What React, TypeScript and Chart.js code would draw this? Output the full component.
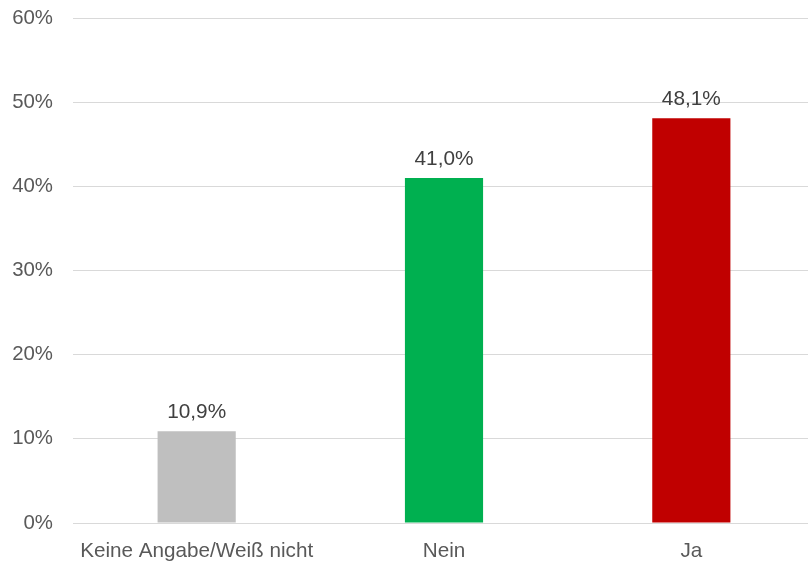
import React, { useEffect, useRef } from "react";
import { Chart, registerables } from "chart.js";

Chart.register(...registerables);

const categories = ["Keine Angabe/Weiß nicht", "Nein", "Ja"];
const values = [10.9, 41.0, 48.1];
const barColors = ["#BFBFBF", "#00B050", "#C00000"];
const yTicks = [0, 10, 20, 30, 40, 50, 60];

const FONT = '"Liberation Sans", Arial, sans-serif';

const valueLabels = {
  id: "valueLabels",
  afterDatasetsDraw(chart: any) {
    const ctx = chart.ctx;
    const meta = chart.getDatasetMeta(0);
    ctx.save();
    ctx.font = "20.8px " + FONT;
    ctx.fillStyle = "#404040";
    ctx.textAlign = "center";
    ctx.textBaseline = "alphabetic";
    meta.data.forEach((bar: any, i: number) => {
      const v = values[i];
      ctx.fillText(v.toFixed(1).replace(".", ",") + "%", bar.x, bar.y - 13);
    });
    ctx.restore();
  },
};

export default function App() {
  const ref = useRef<HTMLCanvasElement | null>(null);
  useEffect(() => {
    document.body.style.margin = "0";
    if (!ref.current) return;
    const chart = new Chart(ref.current, {
      type: "bar",
      data: {
        labels: categories,
        datasets: [
          {
            data: values,
            backgroundColor: barColors,
            borderWidth: 0,
            categoryPercentage: 1,
            barPercentage: 0.316,
          },
        ],
      },
      options: {
        animation: false,
        responsive: false,
        maintainAspectRatio: false,
        layout: { padding: { top: 18, left: 12, right: 0, bottom: 0 } },
        plugins: { legend: { display: false }, tooltip: { enabled: false } },
        scales: {
          x: {
            grid: { display: false, drawTicks: false },
            border: { display: false },
            afterFit: (scale: any) => {
              scale.paddingLeft = 0;
              scale.paddingRight = 0;
              scale.height = 40;
            },
            ticks: {
              color: "#595959",
              padding: 16,
              font: { size: 20.7, family: FONT },
              maxRotation: 0,
              autoSkip: false,
            },
          },
          y: {
            min: 0,
            max: 60,
            afterBuildTicks: (axis: any) => {
              axis.ticks = yTicks.map((v) => ({ value: v }));
            },
            afterFit: (scale: any) => {
              scale.paddingTop = 0;
              scale.paddingBottom = 0;
              scale.width = 61;
            },
            grid: { color: "#D9D9D9", lineWidth: 1, drawTicks: false },
            border: { display: false },
            ticks: {
              color: "#595959",
              padding: 20,
              font: { size: 20.4, family: FONT },
              callback: (v: any) => v + "%",
            },
          },
        },
      },
      plugins: [valueLabels],
    });
    return () => chart.destroy();
  }, []);
  return (
    <div style={{ position: "absolute", left: 0, top: 0, width: 808, height: 563, overflow: "hidden" }}>
      <canvas ref={ref} width={815} height={563} style={{ display: "block" }} />
    </div>
  );
}
